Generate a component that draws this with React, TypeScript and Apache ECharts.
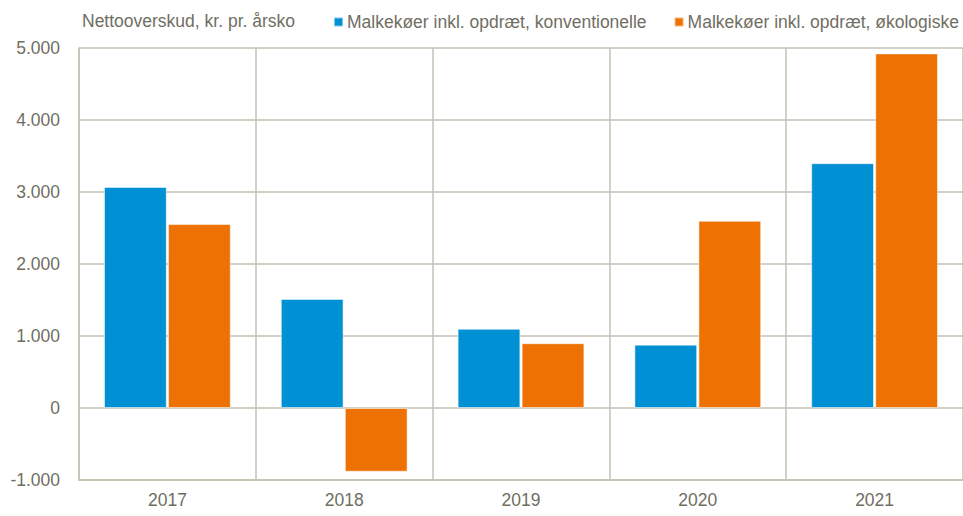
import React, { useEffect, useRef } from "react";
import * as echarts from "echarts";

const categories = ["2017", "2018", "2019", "2020", "2021"];
const conventional = [3070, 1515, 1100, 880, 3400];
const organic = [2555, -885, 900, 2600, 4925];
const seriesNames = [
  "Malkekøer inkl. opdræt, konventionelle",
  "Malkekøer inkl. opdræt, økologiske",
];
const yTitle = "Nettooverskud, kr. pr. årsko";

const textColor = "#6f6e62";
const gridColor = "#c4c1b4";
const font = "'Liberation Sans', Arial, sans-serif";
const fs = 17.5;

export default function App() {
  const ref = useRef<HTMLDivElement>(null);
  useEffect(() => {
    if (!ref.current) return;
    const chart = echarts.init(ref.current, null, { renderer: "svg" });
    chart.setOption({
      animation: false,
      textStyle: { fontFamily: font },
      title: {
        text: yTitle,
        left: 77,
        top: 7,
        textStyle: { color: textColor, fontSize: fs, fontWeight: "normal", fontFamily: font },
      },
      legend: {
        left: 328,
        top: 8,
        width: 700,
        orient: "horizontal",
        icon: "rect",
        itemWidth: 9,
        itemHeight: 9,
        itemGap: 27,
        textStyle: { color: textColor, fontSize: fs, fontFamily: font, padding: [0, 0, 0, -1] },
        data: seriesNames,
      },
      grid: { left: 79, right: -1, top: 48, bottom: 36, containLabel: false },
      xAxis: {
        type: "category",
        data: categories,
        axisLine: { onZero: false, lineStyle: { color: gridColor, width: 1.5 } },
        axisTick: { show: false },
        axisLabel: { color: textColor, fontSize: fs, margin: 11, fontFamily: font },
        splitLine: { show: true, lineStyle: { color: gridColor, width: 1.5 } },
      },
      yAxis: {
        type: "value",
        min: -1000,
        max: 5000,
        interval: 1000,
        axisLine: { show: true, lineStyle: { color: gridColor, width: 1.5 } },
        axisTick: { show: false },
        axisLabel: {
          color: textColor,
          fontSize: fs,
          margin: 19,
          fontFamily: font,
          formatter: (v: number) => {
            const s = Math.abs(v).toString().replace(/\B(?=(\d{3})+(?!\d))/g, ".");
            return (v < 0 ? "-" : "") + s;
          },
        },
        splitLine: { show: true, lineStyle: { color: gridColor, width: 1.5 } },
      },
      series: [
        {
          name: seriesNames[0],
          type: "bar",
          data: conventional,
          barWidth: "35.5%",
          barGap: "2%",
          itemStyle: { color: "#0090d4", borderColor: "rgba(255,255,255,0.5)", borderWidth: 1 },
        },
        {
          name: seriesNames[1],
          type: "bar",
          data: organic,
          barWidth: "35.5%",
          barGap: "2%",
          itemStyle: { color: "#ee7203", borderColor: "rgba(255,255,255,0.5)", borderWidth: 1 },
        },
      ],
    });
    return () => chart.dispose();
  }, []);
  return (
    <div
      ref={ref}
      style={{ position: "fixed", left: 0, top: 0, width: 963, height: 516, background: "#fff" }}
    />
  );
}
